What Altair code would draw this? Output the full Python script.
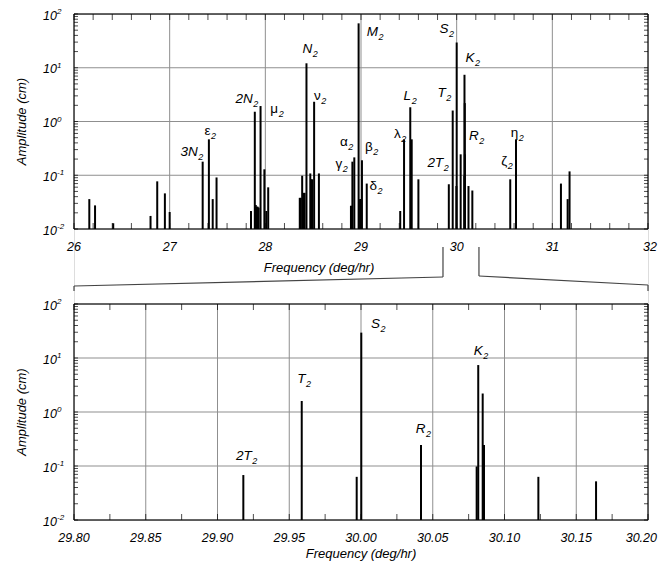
import altair as alt
import pandas as pd
import numpy as np

FONT = "Liberation Sans"
GRID = "#8f8f8f"

# ---- tidal constituents: frequency (deg/hr) and amplitude (cm) ----
wide_freq = [26.16, 26.22, 26.41, 26.80, 26.87, 26.95, 27.00, 27.345, 27.41, 27.45, 27.49,
             27.85, 27.89, 27.90, 27.91, 27.92, 27.93, 27.95, 27.99, 28.01, 28.03,
             28.36, 28.37, 28.385, 28.40, 28.41, 28.43, 28.47, 28.48, 28.49, 28.51, 28.56,
             28.895, 28.90, 28.91, 28.93, 28.975, 28.99, 29.00, 29.01, 29.06,
             29.41, 29.45, 29.515, 29.53, 29.60, 30.56, 30.62, 31.09, 31.16, 31.18]
wide_amp = [0.036, 0.0275, 0.0128, 0.0175, 0.077, 0.046, 0.0207, 0.179, 0.466, 0.036, 0.091,
            0.0216, 1.52, 0.028, 0.026, 0.026, 0.025, 1.94, 0.129, 0.0216, 0.0596,
            0.038, 0.038, 0.098, 0.047, 0.047, 12.1, 0.108, 0.084, 0.084, 2.33, 0.108,
            0.027, 0.027, 0.179, 0.215, 67.0, 0.036, 0.036, 0.19, 0.07,
            0.0216, 0.466, 1.84, 0.466, 0.084, 0.084, 0.466, 0.07, 0.036, 0.118]

zoom_freq = [29.918, 29.9587, 29.997, 30.0002, 30.0418, 30.0806, 30.0817, 30.0848, 30.0857,
             30.1236, 30.1638]
zoom_amp = [0.068, 1.6, 0.063, 29.5, 0.245, 0.098, 7.4, 2.2, 0.245, 0.063, 0.052]

# ---- constituent labels (name, subscript "2", position) ----
top_lab_name = ["3N", "ε", "2N", "μ", "N", "ν", "M", "α", "γ", "β", "δ", "λ", "L", "S", "K",
                "T", "R", "2T", "ζ", "η"]
top_lab_x = [27.294, 27.427, 27.869, 28.134, 28.490, 28.579, 29.177, 28.862, 28.805, 29.124,
             29.167, 29.415, 29.524, 29.914, 30.186, 29.886, 30.231, 29.860, 30.528, 30.643]
top_lab_y = [0.27, 0.66, 2.6, 1.7, 22.5, 2.95, 47.0, 0.41, 0.16, 0.33, 0.063, 0.58, 3.0, 52.0,
             15.5, 3.45, 0.54, 0.172, 0.185, 0.62]

bot_lab_name = ["2T", "T", "S", "R", "K"]
bot_lab_x = [29.9238, 29.9613, 30.0133, 30.0449, 30.0849]
bot_lab_y = [0.155, 4.05, 42.0, 0.48, 13.6]

greek = set("εμναγβδλζη")

y_major = [0.01, 0.1, 1, 10, 100]
y_exp = ["-2", "-1", "0", "1", "2"]

top_x_major = [26, 27, 28, 29, 30, 31, 32]
top_x_text = ["26", "27", "28", "29", "30", "31", "32"]
bot_x_major = [29.80, 29.85, 29.90, 29.95, 30.00, 30.05, 30.10, 30.15, 30.20]
bot_x_text = ["29.80", "29.85", "29.90", "29.95", "30.00", "30.05", "30.10", "30.15", "30.20"]

# zoom bracket ends on the upper frequency axis
bracket_lo = 29.857
bracket_hi = 30.233

W = 574
TOP_H = 215
BOT_Y0, BOT_Y1 = 290, 506

wide_df = pd.DataFrame({"f": wide_freq + zoom_freq, "a": wide_amp + zoom_amp})
zoom_df = pd.DataFrame({"f": zoom_freq, "a": zoom_amp})


def lab_df(names, xs, ys):
    d = pd.DataFrame({"name": names, "f": xs, "a": ys, "sub": "2"})
    d["greek"] = d["name"].apply(lambda s: s in greek)
    return d


ylab_df = pd.DataFrame({"a": y_major, "base": "10", "exp": y_exp})


def panel(bars, labs, xdom, xmajor, xtext, xminor, y0, y1, title_x, title_dy, extra=None):
    xs = alt.Scale(domain=xdom, nice=False, zero=False)
    ys = alt.Scale(type="log", domain=[0.01, 100], nice=False, range=[y1, y0])
    X = lambda fld: alt.X(fld, scale=xs, axis=None)
    Y = lambda fld: alt.Y(fld, scale=ys, axis=None)
    layers = []

    # grid
    gx = pd.DataFrame({"f": xmajor, "lab": xtext})
    gy = pd.DataFrame({"a": y_major})
    layers.append(alt.Chart(gx).mark_rule(color=GRID, strokeWidth=1).encode(
        x=X("f:Q"), y=alt.value(y0), y2=alt.value(y1)))
    layers.append(alt.Chart(gy).mark_rule(color=GRID, strokeWidth=1).encode(
        y=Y("a:Q"), x=alt.value(0), x2=alt.value(W)))

    # bars
    layers.append(alt.Chart(bars).mark_rule(color="black", strokeWidth=2).encode(
        x=X("f:Q"), y=Y("a:Q"), y2=alt.datum(0.01)))

    # frame
    layers.append(alt.Chart(gy.head(1)).mark_rect(fillOpacity=0, stroke="black",
                                                  strokeWidth=1).encode(
        x=alt.value(0), x2=alt.value(W), y=alt.value(y0), y2=alt.value(y1)))

    # inward ticks on all four sides
    xt = pd.DataFrame({"f": xminor})
    for yp in [y0 + 3, y1 - 3]:
        layers.append(alt.Chart(xt).mark_tick(orient="vertical", size=6, thickness=1,
                                              color="black").encode(
            x=X("f:Q"), y=alt.value(yp)))
    yminor = [m * 10.0 ** e for e in range(-2, 2) for m in range(1, 10)] + [100]
    yt = pd.DataFrame({"a": yminor})
    for xp in [2, W - 2]:
        layers.append(alt.Chart(yt).mark_tick(orient="horizontal", size=4, thickness=1,
                                              color="black").encode(
            y=Y("a:Q"), x=alt.value(xp)))

    # x tick labels (the last one pulled inside the page edge)
    inner = gx.iloc[:-1]
    last = gx.iloc[-1:]
    layers.append(alt.Chart(inner).mark_text(align="center", baseline="alphabetic",
                                             font=FONT, fontSize=12.5, fontStyle="italic",
                                             color="black").encode(
        x=X("f:Q"), y=alt.value(y1 + 22), text="lab:N"))
    layers.append(alt.Chart(last).mark_text(align="right", baseline="alphabetic",
                                            font=FONT, fontSize=12.5, fontStyle="italic",
                                            dx=9, color="black").encode(
        x=X("f:Q"), y=alt.value(y1 + 22), text="lab:N"))
    # y tick labels 10^n
    layers.append(alt.Chart(ylab_df).mark_text(align="left", baseline="middle", font=FONT,
                                               fontSize=12.5, fontStyle="italic", dy=1.5,
                                               color="black").encode(
        x=alt.value(-31), y=Y("a:Q"), text="base:N"))
    layers.append(alt.Chart(ylab_df).mark_text(align="left", baseline="middle", font=FONT,
                                               fontSize=8, fontStyle="italic", dx=14,
                                               dy=-2, color="black").encode(
        x=alt.value(-31), y=Y("a:Q"), text="exp:N"))

    # axis titles
    layers.append(alt.Chart(gy.head(1)).mark_text(align="center", baseline="middle",
                                                  font=FONT, fontSize=13,
                                                  fontStyle="italic", color="black").encode(
        x=alt.value(title_x), y=alt.value(y1 + title_dy),
        text=alt.value("Frequency (deg/hr)")))
    layers.append(alt.Chart(gy.head(1)).mark_text(align="center", baseline="middle",
                                                  font=FONT, fontSize=13, angle=270,
                                                  fontStyle="italic", color="black").encode(
        x=alt.value(-52), y=alt.value((y0 + y1) / 2), text=alt.value("Amplitude (cm)")))

    # constituent labels
    for is_greek, style in [(False, "italic"), (True, "normal")]:
        sub = labs[labs["greek"] == is_greek]
        if len(sub) == 0:
            continue
        layers.append(alt.Chart(sub).mark_text(align="right", baseline="middle", font=FONT,
                                               fontSize=13.5, fontStyle=style,
                                               color="black").encode(
            x=X("f:Q"), y=Y("a:Q"), text="name:N"))
        layers.append(alt.Chart(sub).mark_text(align="left", baseline="middle", font=FONT,
                                               fontSize=9, fontStyle="italic", dx=0.5, dy=5,
                                               color="black").encode(
            x=X("f:Q"), y=Y("a:Q"), text="sub:N"))

    if extra:
        for kind, a, b, p, q in extra:
            d = pd.DataFrame({"s": [a], "e": [b]})
            enc = dict(x=X("s:Q"), y=alt.value(p), y2=alt.value(q))
            if kind == "h":
                enc["x2"] = alt.X2("e:Q")
            layers.append(alt.Chart(d).mark_rule(color="#444444", strokeWidth=1.2)
                          .encode(**enc))

    return alt.layer(*layers)


# zoom bracket (drawn below the upper panel, on its frequency scale)
bracket = [
    ("v", 26, None, 272, 277),
    ("h", 26, bracket_lo, 272, 263),
    ("v", bracket_lo, None, 263, 233),
    ("v", bracket_hi, None, 233, 262),
    ("h", bracket_hi, 32, 262, 271),
    ("v", 32, None, 271, 277),
]

top = panel(wide_df, lab_df(top_lab_name, top_lab_x, top_lab_y), [26, 32], top_x_major,
            top_x_text, list(np.round(np.arange(26, 32.001, 0.2), 3)), 0, TOP_H, 245, 39,
            extra=bracket)
bottom = panel(zoom_df, lab_df(bot_lab_name, bot_lab_x, bot_lab_y), [29.8, 30.2],
               bot_x_major, bot_x_text, list(np.round(np.arange(29.8, 30.2001, 0.025), 4)),
               BOT_Y0, BOT_Y1, 287, 34)

chart = alt.layer(top, bottom).resolve_scale(x="independent", y="independent").properties(
    width=W, height=BOT_Y1,
    autosize=alt.AutoSizeParams(type="none"),
    padding={"left": 66, "top": 6, "right": 10, "bottom": 43},
).configure_view(stroke=None).configure(background="white")

chart.save("out.html", embed_options={"renderer": "svg", "actions": False})
